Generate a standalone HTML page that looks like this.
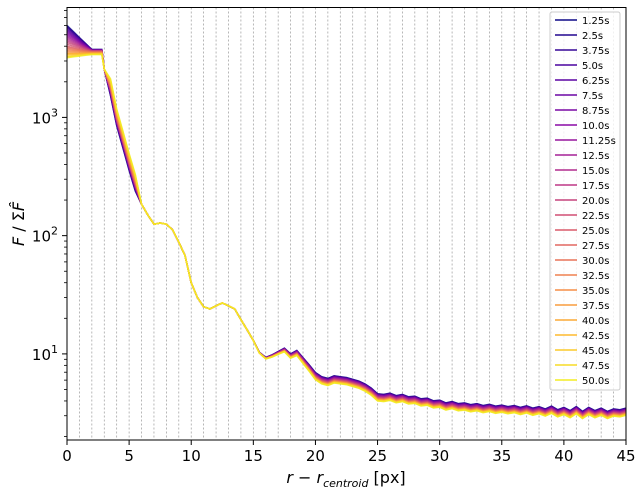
<!DOCTYPE html>
<html><head><meta charset="utf-8"><style>
body{margin:0;background:#fff;}
svg text{font-family:"DejaVu Sans","Liberation Sans",sans-serif;}
</style></head><body>
<svg id="chart" width="641" height="494" xmlns="http://www.w3.org/2000/svg">
<g id="grid"></g>
<g id="series"></g>
<rect x="67" y="7.5" width="559" height="432.5" fill="none" stroke="#000" stroke-width="1"/>
<g id="axes"></g>
<g id="legend"></g>
<text x="346" y="483" font-size="16" text-anchor="middle"><tspan font-style="italic">r</tspan> − <tspan font-style="italic">r</tspan><tspan font-style="italic" font-size="11" dy="4">centroid</tspan><tspan dy="-4"> [px]</tspan></text>
<text transform="translate(24,224) rotate(-90)" font-size="16" text-anchor="middle"><tspan font-style="italic">F</tspan> / Σ<tspan font-style="italic">F̂</tspan></text>
</svg>
<script>
const labels=["1.25s","2.5s","3.75s","5.0s","6.25s","7.5s","8.75s","10.0s","11.25s","12.5s","15.0s","17.5s","20.0s","22.5s","25.0s","27.5s","30.0s","32.5s","35.0s","37.5s","40.0s","42.5s","45.0s","47.5s","50.0s"];
const coreStart=[6000,5900,5800,5650,5500,5350,5200,5050,4900,4750,4600,4450,4300,4150,4000,3900,3800,3700,3600,3500,3450,3400,3300,3250,3200];
const coreEnd=[3750,3750,3740,3730,3720,3710,3700,3690,3680,3670,3660,3650,3640,3620,3600,3580,3560,3540,3520,3500,3480,3460,3440,3420,3400];
const tailFactor=[1.07,1.065,1.06,1.055,1.05,1.045,1.04,1.03,1.025,1.02,1.01,1.0,0.995,0.99,0.98,0.975,0.97,0.965,0.96,0.955,0.95,0.945,0.94,0.935,0.93];
const steepFactor=[0.85,0.86,0.87,0.88,0.89,0.9,0.91,0.92,0.93,0.94,0.95,0.96,0.97,0.98,0.99,1.0,1.02,1.04,1.06,1.08,1.1,1.12,1.14,1.16,1.18];
const baseR=[3,3.5,4,4.5,5,5.5,6,6.5,7,7.5,8,8.5,9,9.5,10,10.5,11,11.5,12,12.5,13,13.5,14,14.5,15,15.5,16,16.5,17,17.5,18,18.5,19,19.5,20,20.5,21,21.5,22,22.5,23,23.5,24,24.5,25,25.5,26,26.5,27,27.5,28,28.5,29,29.5,30,30.5,31,31.5,32,32.5,33,33.5,34,34.5,35,35.5,36,36.5,37,37.5,38,38.5,39,39.5,40,40.5,41,41.5,42,42.5,43,43.5,44,44.5,45];
const baseV=[2550,1800,1000,650,420,280,185,150,125,128,125,112,88,68,40,30,25,24,25.5,27,25.5,24,19.5,16,13,10.2,9.2,9.6,10.2,10.8,9.6,10.2,8.8,7.6,6.5,6.0,5.8,6.1,6.0,5.9,5.7,5.5,5.2,4.8,4.3,4.25,4.35,4.15,4.25,4.05,4.1,3.9,3.95,3.75,3.8,3.6,3.7,3.55,3.6,3.48,3.55,3.42,3.5,3.38,3.45,3.35,3.42,3.3,3.4,3.25,3.35,3.2,3.38,3.15,3.3,3.1,3.35,3.05,3.3,3.1,3.25,3.05,3.2,3.15,3.25];
const xTicks=[0,5,10,15,20,25,30,35,40,45];
const yTicks=[10,100,1000];
const yTickLabels=["10","10","10"];
const yTickExp=["1","2","3"];

const X0=67,X1=626,Y0=440,Y1=7.5,LMIN=Math.log10(1.87),LMAX=Math.log10(8500);
const xs=v=>X0+(v/45)*(X1-X0);
const ys=v=>Y0-(Math.log10(v)-LMIN)/(LMAX-LMIN)*(Y0-Y1);
const NS="http://www.w3.org/2000/svg";
function mk(t,a,p){const e=document.createElementNS(NS,t);for(const k in a)e.setAttribute(k,a[k]);p.appendChild(e);return e;}
const grid=document.getElementById('grid'),axes=document.getElementById('axes'),ser=document.getElementById('series'),leg=document.getElementById('legend');
for(let i=1;i<45;i++){const l=mk('line',{x1:xs(i),x2:xs(i),y1:Y1,y2:Y0,stroke:'#999','stroke-width':0.7,'stroke-dasharray':'2,2'},grid);

}
xTicks.forEach(t=>{mk('line',{x1:xs(t),x2:xs(t),y1:Y0,y2:Y0+5,stroke:'#000'},axes);
const tx=mk('text',{x:xs(t),y:Y0+21,'font-size':15,'text-anchor':'middle'},axes);tx.textContent=t;

});
yTicks.forEach((t,i)=>{mk('line',{x1:X0-5,x2:X0,y1:ys(t),y2:ys(t),stroke:'#000'},axes);
const tx=mk('text',{x:X0-9,y:ys(t)+6,'font-size':15,'text-anchor':'end'},axes);
tx.innerHTML=yTickLabels[i]+'<tspan font-size="11" dy="-7">'+yTickExp[i]+'</tspan>';

});
for(let d=0;d<4;d++)for(let m=2;m<10;m++){const v=m*Math.pow(10,d);if(v<1.87||v>8500)continue;
mk('line',{x1:X0-3,x2:X0,y1:ys(v),y2:ys(v),stroke:'#000','stroke-width':0.8},axes);}
function plasma(t){const s=[[13,8,135],[84,2,163],[139,10,165],[185,50,137],[219,92,104],[244,136,73],[254,188,43],[240,249,33]];
const f=t*(s.length-1),i=Math.min(Math.floor(f),s.length-2),u=f-i;return 'rgb('+s[i].map((c,k)=>Math.round(c+(s[i+1][k]-c)*u)).join(',')+')';}
const n=labels.length;
labels.forEach((lab,si)=>{const col=plasma(si/(n-1)*0.97);let pts=[];
const steps=[0,0.5,1,1.5,2,2.5,2.8];
steps.forEach(r=>{const q=Math.min(r,2)/2;const v=coreStart[si]*Math.pow(coreEnd[si]/coreStart[si],q);pts.push([r,v]);});
baseR.forEach((r,k)=>{let f=1;if(r>=20)f=tailFactor[si];else if(r>=15)f=1+(tailFactor[si]-1)*(r-15)/5;
else if(r>=3.5&&r<=5.5)f=steepFactor[si];pts.push([r,baseV[k]*f]);});
let d='';pts.forEach((p,k)=>{d+=(k?'L':'M')+xs(p[0]).toFixed(1)+','+ys(p[1]).toFixed(1);});
const pa=mk('path',{d:d,fill:'none',stroke:col,'stroke-width':1.5,'stroke-opacity':0.8},ser);


const ly=20+si*15;
const ll=mk('line',{x1:555,x2:577,y1:ly,y2:ly,stroke:col,'stroke-width':2,'stroke-opacity':0.75},leg);


const lt=mk('text',{x:582,y:ly+4,'font-size':10},leg);lt.textContent=lab;

});
const lb=mk('rect',{x:550,y:12,width:70,height:378,fill:'#fff','fill-opacity':0.8,stroke:'#ccc',rx:2},leg);
leg.insertBefore(lb,leg.firstChild);


</script>
</body></html>
